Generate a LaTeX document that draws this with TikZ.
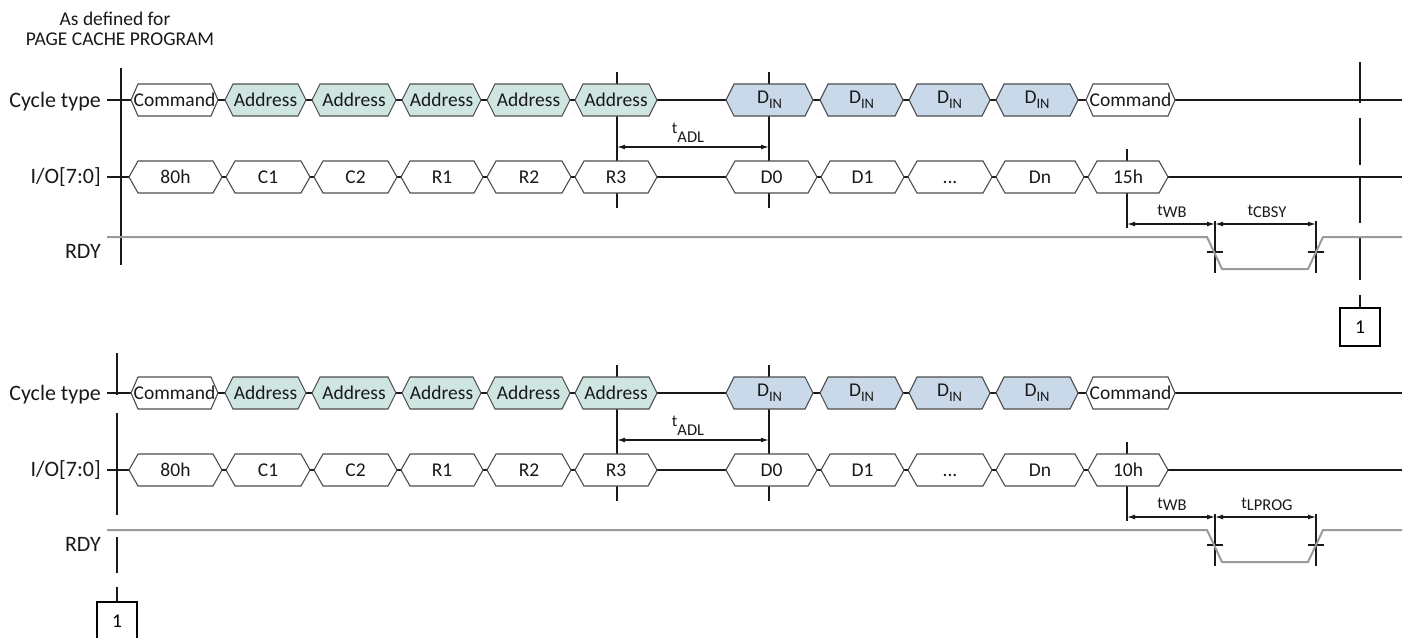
\documentclass[tikz,border=0pt]{standalone}
\usepackage{fontspec}
\setmainfont{Carlito}
\usetikzlibrary{arrows.meta}
\definecolor{addrfill}{HTML}{CFE5E2}
\definecolor{dinfill}{HTML}{C9D9EA}
\definecolor{hexline}{HTML}{4D4D4D}
\definecolor{rdyline}{HTML}{9A9A9A}
\newcommand{\hexb}[7]{%
  \filldraw[hexst,fill=#5] (#2,#4) -- ({#2+#6},{#4-16}) -- ({#3-#6},{#4-16}) -- (#3,#4) -- ({#3-#6},{#4+16}) -- ({#2+#6},{#4+16}) -- cycle;
  \node[bustext, anchor=base] (#1) at ({(#2+#3)/2},{#4+6}) {#7};}
\newcommand{\Din}{\raisebox{3pt}{D}\raisebox{-2pt}{\fontsize{14.5}{14.5}\selectfont IN}}
\newcommand{\tsection}[4]{%
\begin{scope}[shift={(0,#2)}]
  % marker lines
  \coordinate (#1aT) at (617,72);  \coordinate (#1aB) at (617,208);
  \coordinate (#1bT) at (769,72);  \coordinate (#1bB) at (769,208);
  \coordinate (#1cT) at (1127,149); \coordinate (#1cB) at (1127,228);
  \coordinate (#1dT) at (1215,221); \coordinate (#1dB) at (1215,273);
  \coordinate (#1eT) at (1316,221); \coordinate (#1eB) at (1316,273);
  \draw[vmk] (#1aT) -- (#1aB);
  \draw[vmk] (#1bT) -- (#1bB);
  \draw[vmk] (#1cT) -- (#1cB);
  \draw[vmk] (#1dT) -- (#1dB);
  \draw[vmk] (#1eT) -- (#1eB);
  \draw[vmk] (1207,252) -- (1223,252);
  \draw[vmk] (1308,252) -- (1324,252);
  % bus lines
  \coordinate (#1cs) at (107,100); \coordinate (#1ce) at (1402,100);
  \coordinate (#1is) at (107,177); \coordinate (#1ie) at (1402,177);
  \draw[sig] (#1cs) -- (#1ce);
  \draw[sig] (#1is) -- (#1ie);
  % RDY
  \coordinate (#1rs) at (107,237); \coordinate (#1re) at (1402,237);
  \draw[rdy] (#1rs) -- (1207,237) -- (1222,269) -- (1308,269) -- (1323,237) -- (#1re);
  % labels
  \node[lbl] (#1Lc) at (101,107) {Cycle type};
  \node[lbl] (#1Li) at (101,183) {I/O[7:0]};
  \node[lbl] (#1Lr) at (101,258) {RDY};
  % cycle type
  \hexb{#1ca}{131}{218}{100}{white}{7}{Command}
  \hexb{#1cb}{225}{306}{100}{addrfill}{8}{Address}
  \hexb{#1cc}{312}{396}{100}{addrfill}{8}{Address}
  \hexb{#1cd}{402}{481}{100}{addrfill}{8}{Address}
  \hexb{#1cx}{487}{570}{100}{addrfill}{8}{Address}
  \hexb{#1cf}{575}{657}{100}{addrfill}{8}{Address}
  \hexb{#1cg}{726}{813}{100}{dinfill}{8}{\Din}
  \hexb{#1ch}{820}{903}{100}{dinfill}{8}{\Din}
  \hexb{#1ci}{909}{990}{100}{dinfill}{8}{\Din}
  \hexb{#1cj}{996}{1078}{100}{dinfill}{8}{\Din}
  \hexb{#1ck}{1086}{1175}{100}{white}{7}{Command}
  % I/O
  \hexb{#1ia}{129}{222}{177}{white}{9}{80h}
  \hexb{#1ib}{226}{310}{177}{white}{9}{C1}
  \hexb{#1ic}{314}{397}{177}{white}{9}{C2}
  \hexb{#1id}{401}{483}{177}{white}{9}{R1}
  \hexb{#1ix}{487}{571}{177}{white}{9}{R2}
  \hexb{#1if}{575}{657}{177}{white}{9}{R3}
  \hexb{#1ig}{726}{817}{177}{white}{9}{D0}
  \hexb{#1ih}{821}{904}{177}{white}{9}{D1}
  \hexb{#1ii}{908}{992}{177}{white}{9}{...}
  \hexb{#1ij}{996}{1084}{177}{white}{9}{Dn}
  \hexb{#1ik}{1088}{1168}{177}{white}{9}{#3}
  % dimensions
  \draw[dim] (#1aT |- 0,147) -- (#1bT |- 0,147);
  \node[tlab] (#1tadl) at (688,133) {t\raisebox{-9pt}{ADL}};
  \draw[dim] (#1cT |- 0,224) -- (#1dT |- 0,224);
  \draw[dim] (#1dT |- 0,224) -- (#1eT |- 0,224);
  \node[tlab] (#1twb) at (1172,215) {t\raisebox{-2pt}{WB}};
  \node[tlab] (#1tb) at (1267,215) {t\raisebox{-2pt}{#4}};
\end{scope}}
\begin{document}
\begin{tikzpicture}[x=1pt,y=-1pt,
  hexst/.style={draw=hexline, line width=1.1pt, line join=miter},
  bustext/.style={font=\fontsize{19.5}{20}\selectfont, inner sep=0pt, text=black!90},
  sig/.style={line width=1.4pt, black!90},
  vmk/.style={line width=1.4pt, black!90},
  rdy/.style={line width=2pt, rdyline},
  dim/.style={line width=1.3pt, black!90, {Latex[length=8pt,width=5pt]}-{Latex[length=8pt,width=5pt]}},
  lbl/.style={font=\fontsize{22}{23}\selectfont, anchor=base east, inner sep=0pt, text=black!90},
  tlab/.style={font=\fontsize{16.5}{17}\selectfont, anchor=base, inner sep=0pt, text=black!90},
  ttl/.style={font=\fontsize{19.5}{20}\selectfont, anchor=base, inner sep=0pt, text=black!90},
  boxst/.style={draw, line width=1.3pt, minimum width=40pt, minimum height=38pt, inner sep=0pt, font=\fontsize{19.5}{20}\selectfont}]
\useasboundingbox (0,0) rectangle (1410,637);
\node[ttl] (title1) at (115,25) {As defined for};
\node[ttl] (title2) at (120,45) {PAGE CACHE PROGRAM};
% left verticals (drawn first, under everything)
\coordinate (lt1) at (121,68); \coordinate (lt2) at (121,265);
\draw[vmk] (lt1) -- (lt2);
\coordinate (lb1) at (117,353); \coordinate (lb2) at (117,395);
\coordinate (lb3) at (117,413); \coordinate (lb4) at (117,515);
\coordinate (lb5) at (117,537); \coordinate (lb6) at (117,573);
\coordinate (lb7) at (117,587);
\draw[vmk] (lb1) -- (lb2);
\draw[vmk] (lb3) -- (lb4);
\draw[vmk] (lb5) -- (lb6);
% right vertical top
\coordinate (r1) at (1360,62); \coordinate (r2) at (1360,103);
\coordinate (r3) at (1360,118); \coordinate (r4) at (1360,165);
\coordinate (r5) at (1360,177); \coordinate (r6) at (1360,223);
\coordinate (r7) at (1360,237); \coordinate (r8) at (1360,280);
\coordinate (r9) at (1360,295);
\draw[vmk] (r1) -- (r2);
\draw[vmk] (r3) -- (r4);
\draw[vmk] (r5) -- (r6);
\draw[vmk] (r7) -- (r8);
\tsection{T}{0}{15h}{CBSY}
\tsection{B}{293}{10h}{LPROG}
\node[boxst] (box1) at (1360,327) {1};
\draw[vmk] (r9) -- (box1.north);
\node[boxst] (box2) at (117,621) {1};
\draw[vmk] (lb7) -- (box2.north);
\end{tikzpicture}
\end{document}
